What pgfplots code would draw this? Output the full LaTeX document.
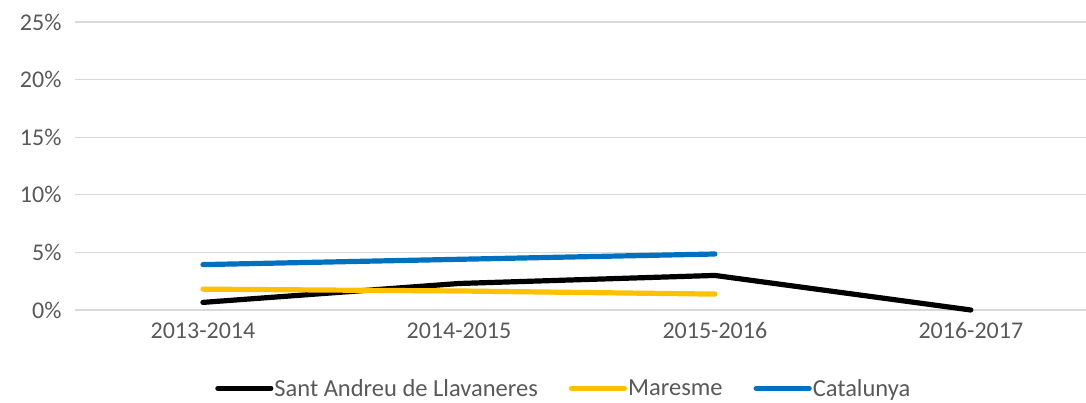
\documentclass[border=0pt]{standalone}
\usepackage{fontspec}
\setmainfont{Carlito}
\usepackage{pgfplots}
\pgfplotsset{compat=1.18}
\definecolor{txt}{HTML}{595959}
\definecolor{gridc}{HTML}{D9D9D9}
\definecolor{mblack}{HTML}{000000}
\definecolor{myellow}{HTML}{FFC000}
\definecolor{mblue}{HTML}{0070C0}
\begin{document}
\begin{tikzpicture}
\begin{axis}[
  name=ax,
  width=1011pt, height=288pt,
  scale only axis,
  xmin=-0.5, xmax=3.45,
  ymin=0, ymax=25,
  xtick={0,1,2,3},
  xticklabels={2013-2014,2014-2015,2015-2016,2016-2017},
  ytick={0,5,10,15,20,25},
  yticklabel={\pgfmathprintnumber{\tick}\%},
  /pgf/number format/assume math mode=true,
  axis line style={draw=none},
  major tick length=0pt,
  ymajorgrids,
  grid style={draw=gridc, line width=1.2pt},
  tick label style={font=\fontsize{24}{28}\selectfont, text=txt},
  yticklabel style={xshift=-10pt},
  xticklabel style={yshift=-9pt},
  clip=false,
  legend style={at={(0.483,-0.272)}, anchor=center, legend columns=3, draw=none,
    font=\fontsize{24.5}{28}\selectfont, text=txt, inner xsep=0pt, inner ysep=0pt,
    nodes={inner xsep=1pt},
    /tikz/every even column/.append style={column sep=30pt}},
  legend image code/.code={\draw[#1, line cap=round] (0pt,0pt) -- (53pt,0pt);},
  every axis plot/.append style={line width=5.2pt, line cap=round, line join=round},
]
\addplot[mblack] coordinates {(0,0.66) (1,2.3) (2,3.0) (3,0.0)};
\addplot[myellow] coordinates {(0,1.81) (1,1.65) (2,1.38)};
\addplot[mblue] coordinates {(0,3.94) (1,4.4) (2,4.86)};
\legend{Sant Andreu de Llavaneres, Maresme, Catalunya}
\end{axis}
\pgfresetboundingbox
\path[use as bounding box] ([xshift=-75pt,yshift=-93pt]ax.south west) rectangle ([yshift=22pt]ax.north east);
\end{tikzpicture}
\end{document}
